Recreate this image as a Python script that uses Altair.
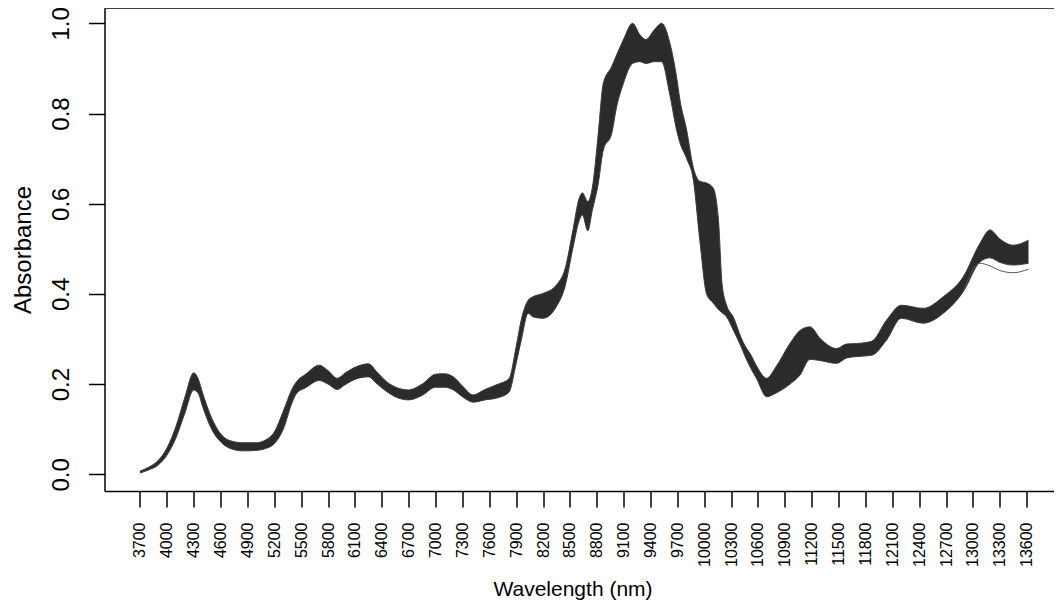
import altair as alt
import pandas as pd

# Envelope of the spectra
wavelength = [3700, 3800, 3900, 4000, 4100, 4200, 4300, 4350, 4400, 4500, 4600, 4700,
              4850, 5000, 5100, 5200, 5300, 5400, 5450, 5550, 5700, 5800, 5900, 6000,
              6120, 6250, 6350, 6450, 6600, 6700, 6850, 7000, 7100, 7200, 7300, 7420,
              7550, 7700, 7820, 7900, 7960, 8034, 8090, 8200, 8350, 8445, 8537, 8600,
              8640, 8700, 8750, 8817, 8873, 8966, 9022, 9096, 9200, 9280, 9349, 9440,
              9524, 9617, 9692, 9729, 9804, 9878, 9950, 10026, 10100, 10160, 10200, 10250,
              10324, 10418, 10455, 10520, 10585, 10697, 10800, 10957, 11069, 11180, 11300, 11478,
              11590, 11701, 11869, 12036, 12200, 12445, 12669, 12892, 13078, 13190, 13300, 13450,
              13620]
lower = [0.003, 0.010, 0.020, 0.042, 0.080, 0.135, 0.187, 0.180, 0.150, 0.100, 0.072, 0.058,
         0.052, 0.053, 0.057, 0.068, 0.100, 0.160, 0.180, 0.192, 0.208, 0.200, 0.188, 0.200,
         0.212, 0.216, 0.200, 0.184, 0.168, 0.165, 0.175, 0.193, 0.193, 0.187, 0.172, 0.160,
         0.165, 0.170, 0.182, 0.246, 0.300, 0.357, 0.349, 0.346, 0.372, 0.416, 0.505, 0.560,
         0.575, 0.540, 0.585, 0.645, 0.719, 0.755, 0.815, 0.866, 0.911, 0.915, 0.911, 0.915,
         0.915, 0.840, 0.763, 0.735, 0.700, 0.653, 0.520, 0.400, 0.380, 0.365, 0.358, 0.349,
         0.320, 0.280, 0.262, 0.235, 0.212, 0.172, 0.180, 0.200, 0.220, 0.255, 0.252, 0.246,
         0.258, 0.261, 0.264, 0.298, 0.346, 0.335, 0.357, 0.405, 0.471, 0.480, 0.470, 0.464,
         0.468]
upper = [0.007, 0.016, 0.030, 0.058, 0.105, 0.170, 0.225, 0.212, 0.180, 0.125, 0.090, 0.075,
         0.070, 0.070, 0.076, 0.094, 0.140, 0.190, 0.206, 0.222, 0.242, 0.230, 0.213, 0.226,
         0.239, 0.245, 0.226, 0.206, 0.190, 0.187, 0.200, 0.222, 0.223, 0.216, 0.196, 0.176,
         0.188, 0.200, 0.212, 0.283, 0.345, 0.386, 0.394, 0.401, 0.420, 0.455, 0.545, 0.610,
         0.624, 0.605, 0.635, 0.756, 0.867, 0.904, 0.930, 0.963, 1.000, 0.975, 0.964, 0.985,
         1.000, 0.956, 0.880, 0.830, 0.763, 0.680, 0.650, 0.646, 0.635, 0.560, 0.420, 0.375,
         0.349, 0.300, 0.285, 0.265, 0.240, 0.213, 0.238, 0.290, 0.319, 0.327, 0.300, 0.279,
         0.289, 0.290, 0.295, 0.342, 0.375, 0.368, 0.394, 0.438, 0.512, 0.542, 0.522, 0.508,
         0.519]

# one spectrum that separates from the band at the long-wavelength end
outlier_wl = [12892, 13078, 13190, 13300, 13450, 13620]
outlier_val = [0.405, 0.468, 0.462, 0.452, 0.447, 0.455]

x_ticks = [3700, 4000, 4300, 4600, 4900, 5200, 5500, 5800, 6100, 6400, 6700, 7000,
           7300, 7600, 7900, 8200, 8500, 8800, 9100, 9400, 9700, 10000, 10300, 10600,
           10900, 11200, 11500, 11800, 12100, 12400, 12700, 13000, 13300, 13600]
y_ticks = [0.0, 0.2, 0.4, 0.6, 0.8, 1.0]

FONT = "Liberation Sans"
W, H = 949.5, 483

df = pd.DataFrame({"wl": wavelength, "lo": lower, "hi": upper})
od = pd.DataFrame({"wl": outlier_wl, "v": outlier_val})

xs = alt.Scale(domain=[3304, 13905], nice=False, zero=False)
ys = alt.Scale(domain=[-0.037, 1.034], nice=False, zero=False)

xaxis = alt.Axis(values=x_ticks, format="d", title="Wavelength (nm)",
                 labelAngle=270, labelAlign="right", labelBaseline="middle",
                 labelPadding=15, labelFontSize=16, labelFont=FONT, labelColor="black",
                 labelOverlap=False, labelFlush=False, labelBound=False,
                 tickSize=16, tickWidth=1.5, tickColor="black",
                 domain=True, domainColor="black", domainWidth=1.5, grid=False,
                 titleFont=FONT, titleFontSize=21, titleFontWeight="normal",
                 titleColor="black", titleAlign="center", titleBaseline="alphabetic",
                 titleX=468, titleY=104)
yaxis = alt.Axis(values=y_ticks, format=".1f", title="Absorbance",
                 labelAngle=270, labelAlign="center", labelBaseline="alphabetic",
                 labelPadding=20, labelFontSize=24, labelFont=FONT, labelColor="black",
                 labelOverlap=False, labelFlush=False,
                 tickSize=16, tickWidth=1.5, tickColor="black",
                 domain=True, domainColor="black", domainWidth=1.5, grid=False,
                 titleFont=FONT, titleFontSize=24, titleFontWeight="normal",
                 titleColor="black", titleAngle=270, titleAlign="center",
                 titleBaseline="alphabetic", titleX=-74, titleY=H / 2)

base = alt.Chart(df)
band = base.mark_area(color="#2b2b2b", interpolate="monotone", clip=True).encode(
    x=alt.X("wl:Q", scale=xs, axis=xaxis),
    y=alt.Y("hi:Q", scale=ys, axis=yaxis),
    y2="lo:Q",
)
top_line = base.mark_line(color="#3c3c3c", strokeWidth=1, interpolate="monotone", clip=True).encode(
    x=alt.X("wl:Q", scale=xs, axis=xaxis), y=alt.Y("hi:Q", scale=ys, axis=yaxis))
bottom_line = base.mark_line(color="#3c3c3c", strokeWidth=1, interpolate="monotone", clip=True).encode(
    x=alt.X("wl:Q", scale=xs, axis=xaxis), y=alt.Y("lo:Q", scale=ys, axis=yaxis))
outlier = alt.Chart(od).mark_line(color="#555555", strokeWidth=1, interpolate="monotone", clip=True).encode(
    x=alt.X("wl:Q", scale=xs, axis=xaxis), y=alt.Y("v:Q", scale=ys, axis=yaxis))

# top edge of the plot frame (the right edge lies off the page, as in the reference)
frame_top = alt.Chart(pd.DataFrame({"k": [0]})).mark_rule(color="black", strokeWidth=1.5).encode(
    x=alt.value(0), x2=alt.value(W), y=alt.value(0))

chart = alt.layer(band, top_line, bottom_line, outlier, frame_top).properties(
    width=W, height=H,
    autosize=alt.AutoSizeParams(type="none"),
    padding={"left": 96.5, "top": 0, "right": 0, "bottom": 111},
    background="white",
).configure_view(stroke=None)

chart.save("out.html", embed_options={"renderer": "svg", "actions": False})
